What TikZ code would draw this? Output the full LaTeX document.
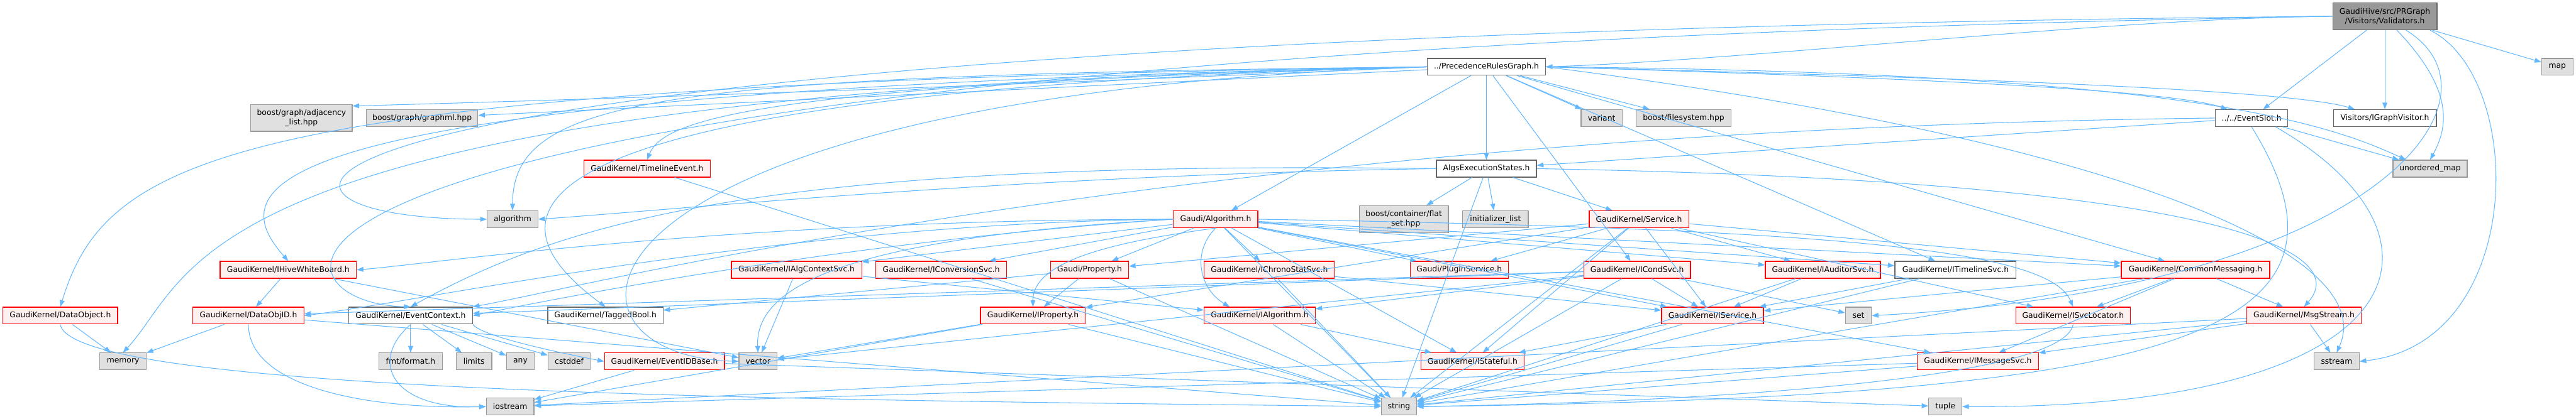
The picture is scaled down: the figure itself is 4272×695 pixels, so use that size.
\documentclass[tikz,border=0pt]{standalone}
\usepackage{fontspec}
\setmainfont{DejaVu Sans}
\usetikzlibrary{positioning,arrows.meta}
\definecolor{edgeblue}{HTML}{63B8FF}
\definecolor{redfill}{HTML}{FFF0F0}
\definecolor{grayfill}{HTML}{E0E0E0}
\definecolor{grayline}{HTML}{999999}
\definecolor{darkline}{HTML}{666666}

\begin{document}
\begin{tikzpicture}[
  x=1pt,y=-1pt,
  file/.style={draw,line width=1.3pt,minimum height=28pt,inner sep=0pt,font=\fontsize{12.9}{15.5}\selectfont},
  trunc/.style={file,draw=red,fill=redfill},
  sys/.style={file,draw=grayline,fill=grayfill},
  plain/.style={file,draw=darkline,fill=white},
  root/.style={file,draw=darkline,fill=grayline,align=center,minimum height=45pt},
  dep/.style={draw=edgeblue,line width=1.1pt,-{Triangle[length=11pt,width=8pt]}}
]
\useasboundingbox (0,0) rectangle (4272,695);

\node[root,minimum width=173pt] (valid) at (3955,27) {GaudiHive/src/PRGraph\\/Visitors/Validators.h};
\node[plain,minimum width=196pt] (prg) at (2465,111) {../PrecedenceRulesGraph.h};
\node[sys,minimum width=52pt] (map) at (4241,111) {map};
\node[plain,minimum width=120pt] (slot) at (3734,196) {../../EventSlot.h};
\node[plain,minimum width=171pt] (igv) at (3955,196) {Visitors/IGraphVisitor.h};
\node[sys,minimum width=123pt] (umap) at (4030,280) {unordered\_map};
\node[sys,minimum width=168pt,minimum height=44pt,align=center] (adj) at (500,196) {boost/graph/adjacency\\\_list.hpp};
\node[sys,minimum width=185pt] (gml) at (700,196) {boost/graph/graphml.hpp};
\node[sys,minimum width=68pt] (variant) at (2656,196) {variant};
\node[sys,minimum width=158pt] (fs) at (2792,196) {boost/filesystem.hpp};
\node[trunc,minimum width=210pt] (tle) at (1073,280) {GaudiKernel/TimelineEvent.h};
\node[plain,minimum width=166pt] (aes) at (2465,280) {AlgsExecutionStates.h};
\node[sys,minimum width=84pt] (algo) at (850,364) {algorithm};
\node[trunc,minimum width=140pt] (galg) at (2016,364) {Gaudi/Algorithm.h};
\node[sys,minimum width=148pt,minimum height=45pt,align=center] (flat) at (2328,364) {boost/container/flat\\\_set.hpp};
\node[sys,minimum width=109pt] (init) at (2480,364) {initializer\_list};
\node[trunc,minimum width=165pt] (svc) at (2718,364) {GaudiKernel/Service.h};
\node[trunc,minimum width=226pt] (hwb) at (478,448) {GaudiKernel/IHiveWhiteBoard.h};
\node[trunc,minimum width=216pt] (iacs) at (1321,448) {GaudiKernel/IAlgContextSvc.h};
\node[trunc,minimum width=217pt] (iconv) at (1561,448) {GaudiKernel/IConversionSvc.h};
\node[trunc,minimum width=129pt] (prop) at (1807,448) {Gaudi/Property.h};
\node[trunc,minimum width=216pt] (ichr) at (2105,448) {GaudiKernel/IChronoStatSvc.h};
\node[trunc,minimum width=163pt] (plug) at (2420,448) {Gaudi/PluginService.h};
\node[trunc,minimum width=177pt] (icond) at (2715,448) {GaudiKernel/ICondSvc.h};
\node[trunc,minimum width=191pt] (iaud) at (3023,448) {GaudiKernel/IAuditorSvc.h};
\node[plain,minimum width=201pt] (itl) at (3243,448) {GaudiKernel/ITimelineSvc.h};
\node[trunc,minimum width=246pt] (cmsg) at (3641,448) {GaudiKernel/CommonMessaging.h};
\node[trunc,minimum width=190pt] (dobj) at (100,524) {GaudiKernel/DataObject.h};
\node[trunc,minimum width=184pt] (doid) at (412,524) {GaudiKernel/DataObjID.h};
\node[plain,minimum width=205pt] (ectx) at (681,524) {GaudiKernel/EventContext.h};
\node[plain,minimum width=191pt] (tbool) at (1004,524) {GaudiKernel/TaggedBool.h};
\node[trunc,minimum width=174pt] (iprop) at (1713,524) {GaudiKernel/IProperty.h};
\node[trunc,minimum width=184pt] (ialg) at (2089,524) {GaudiKernel/IAlgorithm.h};
\node[trunc,minimum width=169pt] (isvc) at (2840,524) {GaudiKernel/IService.h};
\node[sys,minimum width=43pt] (set) at (3082,524) {set};
\node[trunc,minimum width=190pt] (isl) at (3438,524) {GaudiKernel/ISvcLocator.h};
\node[trunc,minimum width=190pt] (mstr) at (3821,524) {GaudiKernel/MsgStream.h};
\node[sys,minimum width=77pt] (mem) at (204,600) {memory};
\node[sys,minimum width=105pt] (fmt) at (681,600) {fmt/format.h};
\node[sys,minimum width=59pt] (lim) at (786,600) {limits};
\node[sys,minimum width=46pt] (any) at (863,600) {any};
\node[sys,minimum width=70pt] (cdef) at (944,600) {cstddef};
\node[trunc,minimum width=199pt] (eid) at (1102,600) {GaudiKernel/EventIDBase.h};
\node[sys,minimum width=63pt] (vec) at (1257,600) {vector};
\node[trunc,minimum width=171pt] (istate) at (2442,600) {GaudiKernel/IStateful.h};
\node[trunc,minimum width=201pt] (imsg) at (3280,600) {GaudiKernel/IMessageSvc.h};
\node[sys,minimum width=75pt] (sstr) at (3875,600) {sstream};
\node[sys,minimum width=79pt] (ios) at (846,675) {iostream};
\node[sys,minimum width=58pt] (str) at (2320,675) {string};
\node[sys,minimum width=55pt] (tup) at (3226,675) {tuple};

% straight includes
\path (valid) edge[dep] (map) edge[dep] (slot) edge[dep] (igv);
\path (prg) edge[dep] (aes) edge[dep] (variant) edge[dep] (fs) edge[dep] (icond)
  edge[dep] (gml) edge[dep] (galg) edge[dep] (cmsg) edge[dep] (itl);
\path (slot) edge[dep] (aes) edge[dep] (umap);
\path (aes) edge[dep] (flat) edge[dep] (init) edge[dep] (svc) edge[dep] (str);
\path (galg) edge[dep] (iacs) edge[dep] (iconv) edge[dep] (prop) edge[dep] (ichr) edge[dep] (plug)
  edge[dep] (istate) edge[dep] (isvc) edge[dep] (iaud) edge[dep] (itl) edge[dep] (cmsg)
  edge[dep] (imsg) edge[dep] (str);
\path (svc) edge[dep] (plug) edge[dep] (prop) edge[dep] (isvc) edge[dep] (iaud) edge[dep] (cmsg)
  edge[dep] (isl) edge[dep] (iprop) edge[dep] (str) edge[dep] (istate);
\path (icond) edge[dep] (isvc) edge[dep] (set) edge[dep] (str) edge[dep] (ialg)
  edge[dep] (doid) edge[dep] (ectx) edge[dep] (vec);
\path (iaud) edge[dep] (isvc) edge[dep] (str);
\path (itl) edge[dep] (isvc) edge[dep] (str);
\path (ichr) edge[dep] (str) edge[dep] (isvc);
\path (iconv) edge[dep] (str);
\path (iacs) edge[dep] (vec) edge[dep] (ialg);
\path (prop) edge[dep] (iprop) edge[dep] (str) edge[dep] (tbool);
\path (iprop) edge[dep] (str) edge[dep] (ios) edge[dep] (vec);
\path (ialg) edge[dep] (istate) edge[dep] (str);
\path (isvc) edge[dep] (istate) edge[dep] (str);
\path (cmsg) edge[dep] (mstr) edge[dep] (isl) edge[dep] (imsg) edge[dep] (isvc) edge[dep] (str);
\path (mstr) edge[dep] (sstr) edge[dep] (imsg) edge[dep] (str) edge[dep] (ios);
\path (imsg) edge[dep] (str) edge[dep] (ios);
\path (tle) edge[dep] (str);
\path (hwb) edge[dep] (doid) edge[dep] (vec);
\path (doid) edge[dep] (mem) edge[dep] (str);
\path (dobj) edge[dep] (mem);
\path (ectx) edge[dep] (fmt) edge[dep] (lim) edge[dep] (any) edge[dep] (cdef);
\path (eid) edge[dep] (ios) edge[dep] (tup);

% routed includes
\draw[dep] (valid.west) .. controls (3500,30) and (2900,100) .. (prg.east);
\draw[dep] ([xshift=20pt]valid.south) .. controls (4070,150) and (4060,210) .. (umap.north);
\draw[dep] ([xshift=75pt]valid.south) .. controls (4190,130) and (4190,570) .. (sstr.east);
\draw[dep] ([xshift=35pt]valid.south) .. controls (4170,160) and (3950,480) .. (set.east);
\draw[dep] (valid.west) .. controls (300,60) and (300,364) .. (algo.west);
\draw[dep] (valid.west) .. controls (200,90) and (420,505) .. (ectx.north);
\draw[dep] (prg.west) .. controls (1500,150) and (800,170) .. ([yshift=20pt]adj.east);
\draw[dep] (prg.west) .. controls (1100,125) and (850,160) .. (algo.north);
\draw[dep] (prg.west) .. controls (400,140) and (180,250) .. (dobj.north);
\draw[dep] (prg.west) .. controls (420,150) and (360,300) .. (hwb.north);
\draw[dep] (prg.west) .. controls (300,150) and (330,450) .. (mem.north);
\draw[dep] (prg.west) .. controls (900,150) and (760,330) .. (tbool.north);
\draw[dep] (prg.west) .. controls (900,160) and (880,590) .. (vec.west);
\draw[dep] (prg.west) .. controls (1250,140) and (1100,200) .. (tle.north);
\draw[dep] (prg.east) .. controls (3200,130) and (3600,150) .. ([xshift=-40pt]slot.north);
\draw[dep] (prg.east) .. controls (3300,130) and (3800,150) .. ([xshift=-50pt]igv.north);
\draw[dep] (prg.east) .. controls (3600,120) and (3850,200) .. ([xshift=-40pt]umap.north);
\draw[dep] (prg.east) .. controls (3500,230) and (3950,420) .. (sstr.north);
\draw[dep] (slot.west) .. controls (2000,215) and (1000,470) .. (ectx.north east);
\draw[dep] (slot.south) .. controls (3950,560) and (3600,660) .. (str.east);
\draw[dep] ([xshift=40pt]slot.south) .. controls (4100,400) and (4000,680) .. (tup.east);
\draw[dep] (aes.west) .. controls (1700,290) and (1100,350) .. (algo.east);
\draw[dep] (aes.west) .. controls (1300,265) and (950,360) .. (ectx.north);
\draw[dep] (aes.east) .. controls (3700,300) and (3900,420) .. (mstr.north);
\draw[dep] (galg.west) .. controls (1200,365) and (700,440) .. (hwb.east);
\draw[dep] (galg.south) .. controls (1860,400) and (1713,430) .. (iprop.north);
\draw[dep] (galg.south) .. controls (1975,420) and (1990,480) .. ([xshift=-50pt]ialg.north);
\draw[dep] (galg.east) .. controls (3100,380) and (3400,420) .. (isl.north);
\draw[dep] (galg.west) .. controls (1500,390) and (1250,450) .. (vec.north);
\draw[dep] (galg.west) .. controls (1300,370) and (700,500) .. (doid.east);
\draw[dep] (galg.west) .. controls (1400,400) and (900,500) .. (ectx.east);
\draw[dep] (isl.south) .. controls (3420,640) and (2700,670) .. (str.east);
\draw[dep] (doid.south) .. controls (412,640) and (600,680) .. (ios.west);
\draw[dep] (dobj.south) .. controls (120,660) and (1500,665) .. (str.west);
\draw[dep] (ectx.south east) .. controls (800,560) and (950,590) .. (eid.west);
\draw[dep] (ectx.south) .. controls (610,600) and (650,680) .. (ios.west);
\end{tikzpicture}
\end{document}
